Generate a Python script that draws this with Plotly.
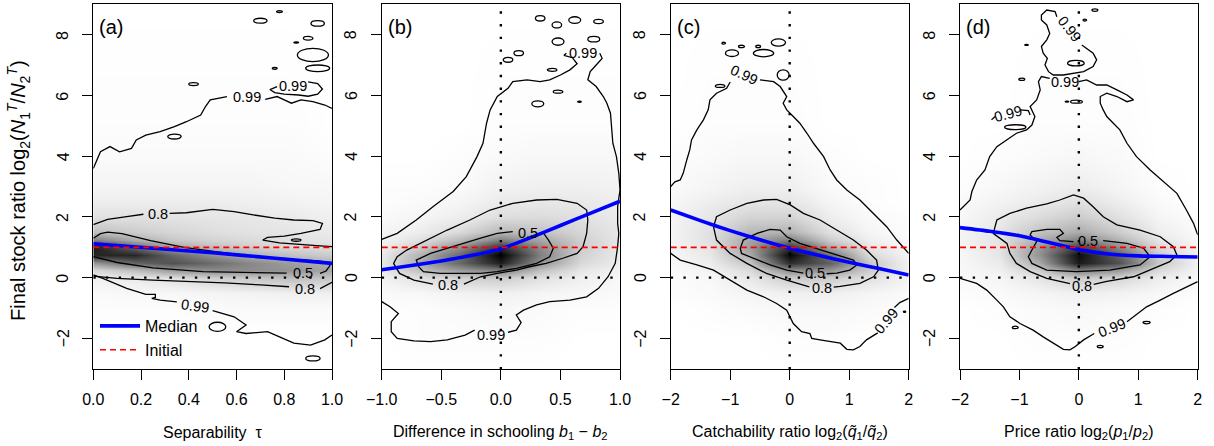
import numpy as np
import plotly.graph_objects as go

W, H = 1214, 446
FONT = "Liberation Sans, Arial, sans-serif"

# ---------------- axis limits & ticks ----------------
YLIM = [-3.02, 9.02]
XLIMS = {"a": [0.0, 1.0], "b": [-1.0, 1.0], "c": [-2.0, 2.0], "d": [-2.0, 2.0]}
XTICKS = {
    "a": [0, 0.2, 0.4, 0.6, 0.8, 1.0],
    "b": [-1, -0.5, 0, 0.5, 1],
    "c": [-2, -1, 0, 1, 2],
    "d": [-2, -1, 0, 1, 2],
}
XTICKLABELS = {
    "a": ["0.0", "0.2", "0.4", "0.6", "0.8", "1.0"],
    "b": ["\u22121.0", "\u22120.5", "0.0", "0.5", "1.0"],
    "c": ["\u22122", "\u22121", "0", "1", "2"],
    "d": ["\u22122", "\u22121", "0", "1", "2"],
}
YTICKS = [-2, 0, 2, 4, 6, 8]
YTICKLABELS = ["\u22122", "0", "2", "4", "6", "8"]

XTITLES = {
    "a": "Separability  \u03c4",
    "b": "Difference in schooling <i>b</i><sub>1</sub> \u2212 <i>b</i><sub>2</sub>",
    "c": "Catchability ratio log<sub>2</sub>(<i>q\u0303</i><sub>1</sub>/<i>q\u0303</i><sub>2</sub>)",
    "d": "Price ratio log<sub>2</sub>(<i>p</i><sub>1</sub>/<i>p</i><sub>2</sub>)",
}
YTITLE = ("Final stock ratio log<sub>2</sub>(<i>N</i><sub>1</sub><sup><i>T</i></sup>"
          "/<i>N</i><sub>2</sub><sup><i>T</i></sup>)")
PANEL_TAGS = {"a": "(a)", "b": "(b)", "c": "(c)", "d": "(d)"}

INITIAL_RATIO = 1.0
ZERO_REF = 0.0

# ---------------- medians ----------------
MED_X = {
    "a": [0, 0.25, 0.5, 0.75, 1.0],
    "b": [-1, -0.75, -0.5, -0.25, 0, 0.25, 0.5, 0.75, 1],
    "c": [-2, -1.5, -1, -0.5, 0, 0.5, 1, 1.5, 2],
    "d": [-2, -1.5, -1, -0.5, 0, 0.5, 1, 1.5, 2],
}
MED_Y = {
    "a": [1.12, 0.97, 0.82, 0.65, 0.47],
    "b": [0.26, 0.40, 0.55, 0.73, 0.95, 1.32, 1.72, 2.12, 2.52],
    "c": [2.23, 1.88, 1.55, 1.25, 0.97, 0.73, 0.51, 0.30, 0.09],
    "d": [1.65, 1.53, 1.38, 1.16, 0.93, 0.78, 0.72, 0.70, 0.68],
}

# ---------------- density shading (columns of values along DENS_Y) ----------------
DENS_Y = [-3, -2, -1, -0.5, 0, 0.25, 0.5, 0.75, 1.0, 1.25, 1.5, 2, 2.5, 3, 4, 5, 9]
DENS_X = {
    "a": [0, 0.17, 0.33, 0.5, 0.67, 0.83, 1.0],
    "b": [-1, -0.67, -0.33, 0, 0.33, 0.67, 1],
    "c": [-2, -1.33, -0.67, 0, 0.67, 1.33, 2],
    "d": [-2, -1.33, -0.67, 0, 0.67, 1.33, 2],
}
DENS = {
    "a": [
        [0, 0, 0.01, 0.02, 0.06, 0.15, 0.40, 0.85, 0.90, 0.50, 0.25, 0.12, 0.07, 0.04, 0.02, 0.01, 0],
        [0, 0, 0.01, 0.03, 0.08, 0.25, 0.60, 0.85, 0.60, 0.32, 0.20, 0.12, 0.07, 0.04, 0.02, 0.01, 0],
        [0, 0, 0.01, 0.03, 0.12, 0.40, 0.68, 0.60, 0.35, 0.22, 0.16, 0.11, 0.07, 0.04, 0.02, 0.01, 0],
        [0, 0, 0.02, 0.04, 0.18, 0.45, 0.58, 0.42, 0.25, 0.17, 0.13, 0.10, 0.07, 0.04, 0.02, 0.01, 0],
        [0, 0, 0.02, 0.05, 0.22, 0.45, 0.46, 0.30, 0.19, 0.14, 0.11, 0.09, 0.06, 0.04, 0.02, 0.01, 0],
        [0, 0, 0.02, 0.06, 0.25, 0.42, 0.38, 0.24, 0.15, 0.12, 0.10, 0.08, 0.05, 0.03, 0.02, 0.01, 0],
        [0, 0, 0.02, 0.06, 0.22, 0.34, 0.30, 0.20, 0.13, 0.10, 0.08, 0.06, 0.04, 0.03, 0.01, 0, 0],
    ],
    "b": [
        [0, 0, 0.01, 0.02, 0.05, 0.08, 0.09, 0.08, 0.06, 0.05, 0.04, 0.02, 0.01, 0.01, 0, 0, 0],
        [0, 0.01, 0.01, 0.03, 0.12, 0.25, 0.33, 0.30, 0.20, 0.12, 0.07, 0.04, 0.02, 0.01, 0, 0, 0],
        [0, 0.01, 0.02, 0.05, 0.18, 0.40, 0.60, 0.60, 0.45, 0.28, 0.15, 0.07, 0.04, 0.02, 0.01, 0, 0],
        [0, 0.01, 0.03, 0.06, 0.20, 0.50, 0.88, 1.00, 0.80, 0.50, 0.28, 0.13, 0.08, 0.05, 0.02, 0.01, 0],
        [0, 0.01, 0.02, 0.04, 0.12, 0.25, 0.42, 0.50, 0.45, 0.35, 0.24, 0.14, 0.09, 0.06, 0.03, 0.01, 0],
        [0, 0, 0.01, 0.03, 0.06, 0.10, 0.15, 0.18, 0.20, 0.19, 0.16, 0.12, 0.09, 0.06, 0.03, 0.01, 0],
        [0, 0, 0.01, 0.02, 0.03, 0.05, 0.07, 0.08, 0.09, 0.09, 0.09, 0.08, 0.07, 0.05, 0.03, 0.01, 0],
    ],
    "c": [
        [0, 0, 0, 0.01, 0.01, 0.02, 0.03, 0.03, 0.04, 0.04, 0.04, 0.04, 0.03, 0.02, 0.01, 0, 0],
        [0, 0, 0.01, 0.02, 0.03, 0.05, 0.07, 0.09, 0.11, 0.12, 0.12, 0.10, 0.07, 0.04, 0.02, 0.01, 0],
        [0, 0, 0.02, 0.04, 0.09, 0.14, 0.22, 0.32, 0.38, 0.35, 0.28, 0.17, 0.10, 0.06, 0.03, 0.01, 0],
        [0, 0.01, 0.03, 0.06, 0.20, 0.45, 0.82, 0.98, 0.80, 0.50, 0.30, 0.17, 0.10, 0.06, 0.03, 0.01, 0],
        [0, 0.01, 0.03, 0.06, 0.20, 0.42, 0.62, 0.55, 0.33, 0.20, 0.12, 0.07, 0.04, 0.02, 0.01, 0, 0],
        [0, 0, 0.02, 0.04, 0.12, 0.20, 0.22, 0.15, 0.10, 0.06, 0.04, 0.02, 0.01, 0.01, 0, 0, 0],
        [0, 0, 0.01, 0.02, 0.04, 0.05, 0.05, 0.04, 0.03, 0.02, 0.01, 0.01, 0, 0, 0, 0, 0],
    ],
    "d": [
        [0, 0, 0, 0.01, 0.02, 0.03, 0.03, 0.03, 0.04, 0.04, 0.04, 0.03, 0.02, 0.01, 0, 0, 0],
        [0, 0, 0.01, 0.02, 0.04, 0.06, 0.08, 0.10, 0.11, 0.11, 0.10, 0.08, 0.05, 0.03, 0.01, 0, 0],
        [0, 0.01, 0.02, 0.04, 0.10, 0.20, 0.33, 0.42, 0.40, 0.32, 0.24, 0.14, 0.08, 0.05, 0.02, 0.01, 0],
        [0, 0.01, 0.03, 0.06, 0.20, 0.50, 0.90, 0.95, 0.75, 0.50, 0.33, 0.20, 0.12, 0.07, 0.03, 0.01, 0],
        [0, 0.01, 0.02, 0.05, 0.16, 0.40, 0.68, 0.62, 0.45, 0.30, 0.20, 0.12, 0.07, 0.04, 0.02, 0.01, 0],
        [0, 0, 0.01, 0.03, 0.07, 0.15, 0.22, 0.20, 0.15, 0.10, 0.07, 0.04, 0.02, 0.01, 0, 0, 0],
        [0, 0, 0, 0.01, 0.03, 0.04, 0.05, 0.05, 0.04, 0.03, 0.02, 0.01, 0, 0, 0, 0, 0],
    ],
}

# ---------------- HDR contour outlines (segments broken at labels) ----------------
CONTOURS = {
    "a": [
        # 0.99
        [(0, 3.60), (0.03, 4.15), (0.07, 4.32), (0.11, 4.15), (0.16, 4.26), (0.18, 4.54), (0.22, 4.70),
         (0.28, 4.81), (0.34, 4.98), (0.39, 5.14), (0.45, 5.36), (0.47, 5.64), (0.49, 5.86), (0.56, 5.97)],
        [(0.72, 5.88), (0.77, 5.97), (0.80, 5.86), (0.83, 5.75), (0.87, 5.86), (0.92, 5.80), (0.97, 5.69), (1.0, 5.58)],
        [(0.77, 6.30), (0.74, 6.20), (0.76, 6.10), (0.80, 6.05), (0.86, 6.02), (0.90, 5.98), (0.94, 6.05),
         (0.96, 6.22), (0.94, 6.40), (0.90, 6.45)],
        [(0, 0.09), (0.04, -0.02), (0.14, -0.35), (0.22, -0.55), (0.26, -0.55), (0.26, -0.65), (0.245, -0.68),
         (0.28, -0.74), (0.35, -0.80)],
        [(0.50, -1.09), (0.59, -1.29), (0.64, -1.56), (0.60, -1.78), (0.64, -1.84), (0.73, -1.78), (0.78, -1.95),
         (0.84, -2.16), (0.91, -2.22), (0.97, -2.05), (1.0, -1.89)],
        # 0.8
        [(0, 1.75), (0.06, 1.92), (0.14, 2.01), (0.21, 2.09)],
        [(0.32, 2.12), (0.39, 2.14), (0.50, 2.25), (0.59, 2.18), (0.67, 2.07), (0.76, 1.96), (0.84, 1.90),
         (0.92, 1.88), (0.96, 1.79), (0.95, 1.59), (0.87, 1.46), (0.80, 1.37), (0.73, 1.33), (0.71, 1.24),
         (0.78, 1.15), (0.87, 1.11), (0.95, 1.05), (1.0, 1.02)],
        [(0, 0.05), (0.10, -0.02), (0.25, -0.08), (0.40, -0.12), (0.55, -0.17), (0.70, -0.24), (0.82, -0.30)],
        [(0.95, -0.36), (0.98, -0.25), (1.0, -0.15)],
        # 0.5
        [(0, 1.30), (0.03, 1.45), (0.06, 1.50), (0.12, 1.45), (0.24, 1.22), (0.38, 1.00), (0.52, 0.85),
         (0.66, 0.72), (0.80, 0.62), (0.94, 0.55), (0.99, 0.50), (0.99, 0.38), (0.975, 0.22), (0.95, 0.14)],
        [(0.81, 0.15), (0.65, 0.17), (0.46, 0.20), (0.25, 0.32), (0.10, 0.50), (0, 0.69)],
    ],
    "b": [
        [(-1, 1.26), (-0.87, 1.46), (-0.71, 1.90), (-0.57, 2.34), (-0.40, 2.84), (-0.29, 3.33), (-0.20, 3.99),
         (-0.15, 4.43), (-0.12, 5.09), (-0.09, 5.53), (-0.03, 5.97), (0.02, 6.13), (0.06, 6.24), (0.10, 6.46),
         (0.22, 6.52), (0.33, 6.46), (0.41, 6.52), (0.50, 6.68), (0.58, 6.85), (0.64, 7.05), (0.60, 7.25),
         (0.53, 7.33), (0.55, 7.40)],
        [(0.83, 7.40), (0.85, 7.23), (0.80, 7.01), (0.75, 6.79), (0.73, 6.52), (0.80, 6.30), (0.86, 5.97),
         (0.89, 5.75), (0.92, 5.42), (0.93, 4.87), (0.94, 4.43), (0.97, 3.99), (0.99, 3.44), (1.0, 2.89),
         (0.98, 2.34), (0.98, 1.79), (0.99, 1.46), (0.98, 1.02), (0.96, 0.47), (0.90, 0.03), (0.82, -0.35),
         (0.72, -0.63), (0.58, -0.74), (0.41, -0.79), (0.30, -0.90), (0.19, -1.07), (0.13, -1.23), (0.17, -1.48),
         (0.13, -1.73), (0.06, -1.80)],
        [(-0.22, -1.73), (-0.30, -1.89), (-0.45, -2.05), (-0.59, -2.11), (-0.73, -2.08), (-0.87, -2.00),
         (-0.92, -1.78), (-0.92, -1.45), (-0.86, -1.18), (-0.93, -0.96), (-1, -0.79)],
        # 0.8
        [(-0.31, -0.21), (-0.17, 0.03), (-0.03, 0.14), (0.13, 0.25), (0.24, 0.36), (0.38, 0.47), (0.52, 0.64),
         (0.64, 0.80), (0.69, 1.02), (0.72, 1.46), (0.73, 1.90), (0.72, 2.23), (0.64, 2.45), (0.47, 2.58),
         (0.30, 2.56), (0.10, 2.45), (-0.09, 2.23), (-0.26, 1.90), (-0.45, 1.57), (-0.62, 1.24), (-0.79, 0.91),
         (-0.87, 0.69), (-0.90, 0.47), (-0.85, 0.14), (-0.73, -0.08), (-0.57, -0.21)],
        # 0.5
        [(0.10, 1.52), (-0.03, 1.46), (-0.17, 1.30), (-0.31, 1.13), (-0.45, 0.97), (-0.59, 0.80), (-0.71, 0.58),
         (-0.69, 0.36), (-0.65, 0.20), (-0.51, 0.14), (-0.31, 0.14), (-0.17, 0.14), (-0.03, 0.20), (0.13, 0.31),
         (0.30, 0.47), (0.41, 0.69), (0.44, 0.97), (0.40, 1.24), (0.36, 1.46)],
    ],
    "c": [
        [(-2, 3.00), (-1.93, 3.16), (-1.84, 3.22), (-1.79, 3.44), (-1.73, 3.88), (-1.68, 4.21), (-1.65, 4.54),
         (-1.56, 4.87), (-1.45, 5.20), (-1.37, 5.53), (-1.34, 5.86), (-1.23, 6.08), (-1.06, 6.24), (-1.00, 6.45)],
        [(-0.50, 6.52), (-0.27, 6.46), (-0.16, 6.30), (-0.05, 5.97), (-0.11, 5.75), (-0.05, 5.53), (0.06, 5.31),
         (0.17, 5.09), (0.29, 4.76), (0.40, 4.43), (0.57, 3.99), (0.68, 3.55), (0.79, 3.22), (0.96, 2.89),
         (1.18, 2.56), (1.41, 2.12), (1.63, 1.68), (1.80, 1.24), (2.0, 0.80)],
        [(2.0, -0.68), (1.85, -0.82), (1.76, -0.98)],
        [(1.48, -1.82), (1.29, -2.05), (1.18, -2.27), (1.07, -2.38), (0.96, -2.36), (0.85, -2.16), (0.51, -2.05),
         (0.37, -2.00), (0.34, -1.84), (0.20, -1.78), (0.06, -1.51), (0.01, -1.29), (-0.05, -1.07), (-0.22, -0.85),
         (-0.44, -0.63), (-0.72, -0.41), (-1.00, -0.08), (-1.28, 0.25), (-1.56, 0.42), (-1.84, 0.58), (-2, 0.80)],
        # 0.8
        [(0.74, -0.31), (0.85, -0.29), (1.18, -0.19), (1.41, 0.03), (1.49, 0.25), (1.46, 0.58), (1.29, 0.91),
         (1.07, 1.24), (0.79, 1.57), (0.51, 1.90), (0.23, 2.12), (0.01, 2.40), (-0.22, 2.58), (-0.44, 2.56),
         (-0.72, 2.45), (-1.00, 2.23), (-1.23, 2.01), (-1.28, 1.68), (-1.23, 1.24), (-1.00, 0.80), (-0.72, 0.47),
         (-0.39, 0.14), (-0.05, -0.08), (0.23, -0.24), (0.33, -0.30)],
        # 0.5
        [(0.62, 0.13), (0.79, 0.15), (1.01, 0.25), (1.13, 0.42), (1.07, 0.58), (0.79, 0.75), (0.51, 0.91),
         (0.17, 1.13), (-0.05, 1.35), (-0.16, 1.57), (-0.33, 1.59), (-0.55, 1.46), (-0.78, 1.24), (-0.83, 0.97),
         (-0.81, 0.80), (-0.61, 0.64), (-0.33, 0.42), (-0.05, 0.25), (0.23, 0.15)],
    ],
    "d": [
        [(-2, 2.23), (-1.83, 2.56), (-1.80, 2.84), (-1.72, 3.22), (-1.58, 3.55), (-1.50, 3.99), (-1.38, 4.32),
         (-1.21, 4.54), (-1.05, 4.76), (-0.88, 4.87), (-0.79, 5.03), (-0.74, 5.31), (-0.82, 5.64), (-0.71, 5.86),
         (-0.65, 6.19), (-0.68, 6.46), (-0.63, 6.63), (-0.49, 6.57)],
        [(0.0, 6.46), (0.13, 6.52), (0.30, 6.35), (0.47, 6.35), (0.64, 6.19), (0.81, 6.02), (0.92, 5.86),
         (0.81, 5.80), (0.64, 5.97), (0.47, 6.08), (0.36, 5.97), (0.36, 5.75), (0.41, 5.53), (0.47, 5.31),
         (0.58, 5.09), (0.69, 4.87), (0.81, 4.43), (0.97, 3.99), (1.20, 3.55), (1.42, 3.16), (1.65, 2.78),
         (1.81, 2.23), (1.93, 1.79), (2.0, 1.41)],
        [(2.0, -0.13), (1.81, -0.30), (1.59, -0.52), (1.37, -0.74), (1.14, -0.96), (0.92, -1.29), (0.81, -1.45)],
        [(0.26, -1.84), (0.08, -2.05), (-0.06, -2.27), (-0.15, -2.38), (-0.26, -2.36), (-0.43, -2.16),
         (-0.60, -1.95), (-0.77, -1.73), (-0.99, -1.51), (-1.16, -1.29), (-1.27, -0.96), (-1.38, -0.74),
         (-1.55, -0.41), (-1.72, -0.19), (-1.89, -0.08), (-2, -0.02)],
        [(0.05, 7.67), (0.13, 7.56), (0.24, 7.40), (0.30, 7.18), (0.24, 6.96), (0.08, 6.79), (-0.09, 6.74),
         (-0.26, 6.68), (-0.43, 6.68), (-0.51, 6.79), (-0.57, 7.01), (-0.53, 7.23), (-0.60, 7.40), (-0.63, 7.62),
         (-0.54, 7.84), (-0.49, 8.05), (-0.54, 8.33), (-0.63, 8.49), (-0.63, 8.66), (-0.54, 8.82), (-0.40, 8.77),
         (-0.37, 8.60)],
        [(-1.47, 5.20), (-1.41, 5.31)],
        [(-0.99, 5.53), (-0.85, 5.51), (-0.82, 5.36)],
        # 0.8
        [(0.25, -0.22), (0.47, -0.12), (0.92, 0.03), (1.25, 0.31), (1.53, 0.53), (1.65, 0.75), (1.59, 1.02),
         (1.37, 1.35), (1.03, 1.57), (0.64, 1.74), (0.41, 2.01), (0.24, 2.34), (0.08, 2.62), (-0.09, 2.73),
         (-0.32, 2.56), (-0.54, 2.43), (-0.88, 2.29), (-1.16, 2.12), (-1.38, 1.90), (-1.44, 1.46), (-1.33, 1.30),
         (-1.21, 1.13), (-1.16, 0.80), (-1.05, 0.47), (-0.82, 0.20), (-0.54, -0.02), (-0.15, -0.20)],
        # 0.5
        [(0.41, 1.22), (0.81, 1.13), (1.09, 0.97), (1.20, 0.69), (1.03, 0.42), (0.52, 0.25), (-0.04, 0.20),
         (-0.54, 0.25), (-0.79, 0.47), (-0.85, 0.69), (-0.79, 0.91), (-0.71, 1.19), (-0.82, 1.41), (-0.79, 1.52),
         (-0.54, 1.59), (-0.32, 1.59), (-0.26, 1.46), (-0.37, 1.33), (-0.32, 1.22), (-0.09, 1.19)],
    ],
}

# small closed 0.99 islands: (centre x, centre y, half width, half height)
ISLANDS = {
    "a": [(0.70, 8.47, 0.028, 0.08), (0.94, 8.38, 0.028, 0.09), (0.78, 8.77, 0.012, 0.03),
          (0.90, 7.89, 0.02, 0.06), (0.92, 7.34, 0.065, 0.22), (0.94, 6.90, 0.05, 0.11),
          (0.76, 6.90, 0.01, 0.03), (0.42, 6.38, 0.02, 0.05), (0.34, 4.65, 0.028, 0.08),
          (0.92, -2.66, 0.03, 0.08), (0.52, -1.62, 0.035, 0.15), (0.85, 1.24, 0.02, 0.04),
          (0.85, 7.75, 0.01, 0.02)],
    "b": [(0.33, 8.55, 0.04, 0.09), (0.47, 8.33, 0.04, 0.10), (0.62, 8.49, 0.05, 0.11),
          (0.82, 8.44, 0.04, 0.07), (0.48, 7.78, 0.05, 0.12), (0.78, 7.86, 0.05, 0.09),
          (0.06, 7.18, 0.04, 0.08), (0.15, 7.40, 0.04, 0.08), (0.43, 6.85, 0.04, 0.05),
          (0.48, 6.13, 0.04, 0.05), (0.31, 5.73, 0.05, 0.10), (0.66, 5.80, 0.015, 0.02)],
    "c": [(-0.97, 7.40, 0.11, 0.11), (-1.11, 7.73, 0.03, 0.03), (-0.81, 7.62, 0.05, 0.04),
          (-0.53, 7.62, 0.04, 0.04), (-0.44, 7.40, 0.17, 0.12), (-0.19, 7.75, 0.12, 0.12),
          (-0.11, 6.68, 0.10, 0.17), (-1.17, 6.32, 0.08, 0.05), (1.93, -1.12, 0.02, 0.02)],
    "d": [(-1.07, 4.96, 0.18, 0.08), (-0.05, 7.07, 0.14, 0.09), (0.27, 8.82, 0.05, 0.04),
          (0.10, 8.49, 0.03, 0.03), (-0.88, 7.67, 0.03, 0.015), (-0.96, 6.54, 0.05, 0.04),
          (-0.04, 5.80, 0.10, 0.05), (-0.20, 5.80, 0.03, 0.015), (-1.07, -1.64, 0.05, 0.04),
          (1.14, -1.48, 0.06, 0.04), (0.36, -2.27, 0.05, 0.04)],
}

# contour labels: (x, y, text, angle)
CLABELS = {
    "a": [(0.645, 5.96, "0.99", 0), (0.835, 6.32, "0.99", 0), (0.27, 2.09, "0.8", 0),
          (0.425, -0.93, "0.99", 8), (0.88, 0.14, "0.5", 0), (0.885, -0.38, "0.8", 0)],
    "b": [(0.69, 7.40, "0.99", 0), (-0.08, -1.89, "0.99", 0), (-0.44, -0.25, "0.8", 0), (0.23, 1.48, "0.5", 0)],
    "c": [(-0.76, 6.68, "0.99", 25), (1.62, -1.42, "0.99", -50), (0.54, -0.33, "0.8", 0), (0.43, 0.15, "0.5", 0)],
    "d": [(-0.16, 8.18, "0.99", 52), (-0.23, 6.46, "0.99", 0), (-1.20, 5.40, "0.99", -15),
          (0.55, -1.66, "0.99", -22), (0.16, 1.22, "0.5", 0), (0.05, -0.27, "0.8", 0)],
}

# ---------------- layout geometry ----------------
PANELS = ["a", "b", "c", "d"]
X_DOMAINS = {"a": [93.3 / W, 332.0 / W], "b": [381.7 / W, 620.0 / W],
             "c": [670.7 / W, 908.7 / W], "d": [960.0 / W, 1197.7 / W]}
Y_DOMAIN = [1 - 369.3 / H, 1 - 4.0 / H]
YLABEL_OFFSET = 30.3  # px left of the axis line (centre of rotated tick labels)

fig = go.Figure()
shapes = []
annotations = []
GREY_SCALE = [[0.0, "#ffffff"], [1.0, "#000000"]]

for i, p in enumerate(PANELS, start=1):
    xa = "x" if i == 1 else f"x{i}"
    ya = "y" if i == 1 else f"y{i}"
    z = np.array(DENS[p]).T
    fig.add_trace(go.Heatmap(x=DENS_X[p], y=DENS_Y, z=z, colorscale=GREY_SCALE, zmin=0, zmax=1,
                             zsmooth="best", showscale=False, hoverinfo="skip", xaxis=xa, yaxis=ya))
    cx, cy = [], []
    for seg in CONTOURS[p]:
        cx += [pt[0] for pt in seg] + [None]
        cy += [pt[1] for pt in seg] + [None]
    fig.add_trace(go.Scatter(x=cx, y=cy, mode="lines", line=dict(color="black", width=1.3),
                             showlegend=False, hoverinfo="skip", xaxis=xa, yaxis=ya))
    for (ex, ey, rx, ry) in ISLANDS[p]:
        shapes.append(dict(type="circle", xref=xa, yref=ya, x0=ex - rx, x1=ex + rx, y0=ey - ry, y1=ey + ry,
                           line=dict(color="black", width=1.3), layer="above"))
    fig.add_trace(go.Scatter(x=MED_X[p], y=MED_Y[p], mode="lines", name="Median",
                             line=dict(color="#0000ff", width=3.6, shape="spline", smoothing=0.5),
                             showlegend=(p == "a"), xaxis=xa, yaxis=ya))
    fig.add_trace(go.Scatter(x=XLIMS[p], y=[INITIAL_RATIO, INITIAL_RATIO], mode="lines", name="Initial",
                             line=dict(color="#ff0000", width=1.6, dash="6px,4px"),
                             showlegend=(p == "a"), xaxis=xa, yaxis=ya))
    fig.add_trace(go.Scatter(x=XLIMS[p], y=[ZERO_REF, ZERO_REF], mode="lines",
                             line=dict(color="black", width=2.4, dash="2.4px,10.3px"),
                             showlegend=False, hoverinfo="skip", xaxis=xa, yaxis=ya))
    if p != "a":
        fig.add_trace(go.Scatter(x=[ZERO_REF, ZERO_REF], y=YLIM, mode="lines",
                                 line=dict(color="black", width=2.4, dash="2.4px,10.3px"),
                                 showlegend=False, hoverinfo="skip", xaxis=xa, yaxis=ya))
    for (lx, ly, txt, ang) in CLABELS[p]:
        annotations.append(dict(x=lx, y=ly, xref=xa, yref=ya, text=txt, showarrow=False, textangle=ang,
                                borderpad=0, font=dict(family=FONT, size=14.5, color="black")))
    # axes
    axis_common = dict(showline=True, mirror=True, linecolor="black", linewidth=1, showgrid=False,
                       zeroline=False, ticks="outside", ticklen=10, tickwidth=1, tickcolor="black",
                       automargin=False, tickfont=dict(family=FONT, size=16, color="black"))
    fig.update_layout(**{
        ("xaxis" if i == 1 else f"xaxis{i}"): dict(domain=X_DOMAINS[p], range=XLIMS[p], anchor=ya,
                                                    tickvals=XTICKS[p], ticktext=XTICKLABELS[p],
                                                    ticklabelstandoff=5, **axis_common),
        ("yaxis" if i == 1 else f"yaxis{i}"): dict(domain=Y_DOMAIN, range=YLIM, anchor=xa,
                                                    tickvals=YTICKS, showticklabels=False, **axis_common),
    })
    dom = X_DOMAINS[p]
    # rotated y tick labels (R style, reading upwards)
    for yv, yt in zip(YTICKS, YTICKLABELS):
        annotations.append(dict(x=dom[0] - YLABEL_OFFSET / W, y=yv, xref="paper", yref=ya, text=yt,
                                showarrow=False, textangle=-90, xanchor="center", yanchor="middle",
                                borderpad=0, font=dict(family=FONT, size=16, color="black")))
    annotations.append(dict(x=(dom[0] + dom[1]) / 2, y=1 - 432 / H, xref="paper", yref="paper",
                            text=XTITLES[p], showarrow=False, xanchor="center", yanchor="middle",
                            font=dict(family=FONT, size=16, color="black")))
    annotations.append(dict(x=dom[0] + 4 / W, y=1 - 26.5 / H, xref="paper", yref="paper",
                            text=PANEL_TAGS[p], showarrow=False, xanchor="left", yanchor="middle",
                            font=dict(family=FONT, size=20, color="black")))

annotations.append(dict(x=18 / W, y=1 - 191 / H, xref="paper", yref="paper", text=YTITLE, showarrow=False,
                        textangle=-90, xanchor="center", yanchor="middle",
                        font=dict(family=FONT, size=20, color="black")))

fig.update_layout(
    width=W, height=H, autosize=False,
    margin=dict(l=0, r=0, t=0, b=0, pad=0, autoexpand=False),
    paper_bgcolor="white", plot_bgcolor="white",
    shapes=shapes, annotations=annotations,
    font=dict(family=FONT, color="black"),
    legend=dict(x=95 / W, y=1 - 309 / H, xanchor="left", yanchor="top", bgcolor="rgba(0,0,0,0)",
                itemwidth=40, font=dict(family=FONT, size=16, color="black"), tracegroupgap=0),
)

fig.write_html("out.html", config={"displayModeBar": False},
               post_script="document.body.style.margin='0';")
